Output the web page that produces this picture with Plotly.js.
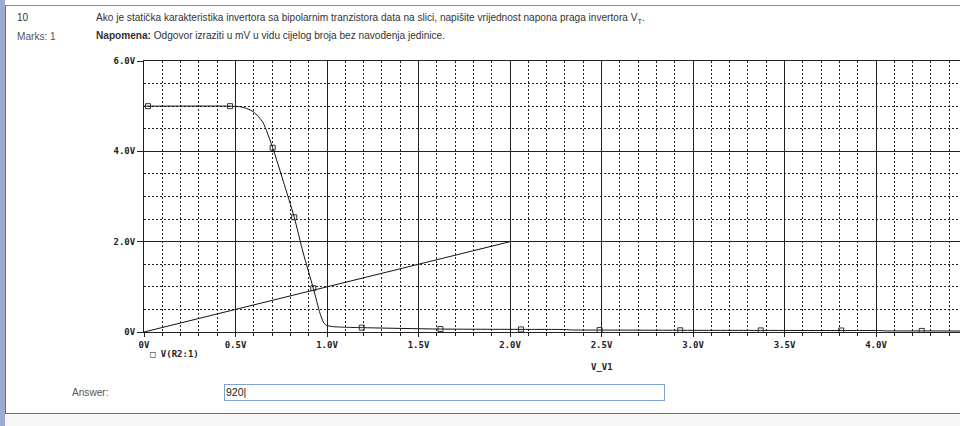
<!DOCTYPE html>
<html>
<head>
<meta charset="utf-8">
<script src="https://cdn.plot.ly/plotly-3.0.1.min.js"></script>
<style>
  html, body { margin:0; padding:0; width:960px; height:426px; overflow:hidden; background:#fff; }
  #page { position:relative; width:960px; height:426px; }
  #chart { position:absolute; left:0; top:0; width:960px; height:426px; }
  .txt { position:absolute; font-family:"Liberation Sans", Arial, sans-serif; font-size:10.1px; color:#333; white-space:nowrap; }
  #leftbar { position:absolute; left:0; top:0; width:5px; height:426px; background:#9dabd3; }
  #frame { position:absolute; left:5px; top:5px; width:960px; height:407px; border-left:1px solid #6f6f6f; border-top:1px solid #8a8a8a; border-bottom:1px solid #6f6f6f; }
  #below { position:absolute; left:5px; top:414px; width:955px; height:12px; background:#f6f6f6; }
  #answer { position:absolute; left:224px; top:384px; width:441px; height:17px; border:1px solid #7f9fd6; font-family:"Liberation Sans", Arial, sans-serif; font-size:10.5px; color:#222; line-height:15px; padding-left:1px; box-sizing:border-box; }
</style>
</head>
<body>
<div id="page">
  <div id="leftbar"></div>
  <div id="below"></div>
  <div id="frame"></div>
  <div id="chart"></div>
  <div class="txt" style="left:17px; top:12px;">10</div>
  <div class="txt" style="left:17px; top:31px; color:#555;">Marks: 1</div>
  <div class="txt" id="q1" style="left:96px; top:12px;">Ako je statička karakteristika invertora sa bipolarnim tranzistora data na slici, napišite vrijednost napona praga invertora V<sub style="font-size:7.5px;">T</sub>.</div>
  <div class="txt" id="q2" style="left:96px; top:30px;"><b>Napomena:</b> Odgovor izraziti u mV u vidu cijelog broja bez navođenja jedinice.</div>
  <div class="txt" style="left:72px; top:387px; color:#555;">Answer:</div>
  <div id="answer">920|</div>
</div>
<script>
// ---- data ----
const curveX = [0, 0.47, 0.52, 0.56, 0.60, 0.65, 0.703, 0.761, 0.821, 0.87, 0.925, 0.962, 0.98, 0.995, 1.03, 1.10, 1.19, 1.62, 2.06, 2.30, 2.34, 2.49, 2.93, 3.37, 3.81, 4.02, 4.05, 4.25, 4.46];
const curveY = [5.0, 5.0, 4.99, 4.95, 4.87, 4.64, 4.08, 3.34, 2.54, 1.75, 0.97, 0.41, 0.22, 0.15, 0.12, 0.105, 0.096, 0.065, 0.058, 0.055, 0.045, 0.043, 0.038, 0.035, 0.033, 0.032, 0.025, 0.024, 0.022];
const markerX = [0.022, 0.47, 0.703, 0.821, 0.925, 1.19, 1.62, 2.06, 2.49, 2.93, 3.37, 3.81, 4.25];
const markerY = [5.0, 5.0, 4.08, 2.54, 0.97, 0.096, 0.065, 0.058, 0.043, 0.038, 0.035, 0.033, 0.024];
const refX = [0, 2.0];
const refY = [0, 2.0];
const xTickVals = [0, 0.5, 1.0, 1.5, 2.0, 2.5, 3.0, 3.5, 4.0, 4.5];
const xTickText = ["0V", "0.5V", "1.0V", "1.5V", "2.0V", "2.5V", "3.0V", "3.5V", "4.0V", "4.5V"];
const yTickVals = [0, 2, 4, 6];
const yTickText = ["0V", "2.0V", "4.0V", "6.0V"];
const legendLabel = "\u25A1 V(R2:1)";
const xTitle = "V_V1";

const tickFont = { family: "DejaVu Sans Mono, monospace", size: 9, color: "#222", weight: "bold" };

const traces = [
  { x: refX, y: refY, mode: "lines", line: { color: "#111", width: 1 }, hoverinfo: "skip", showlegend: false },
  { x: curveX, y: curveY, mode: "lines", line: { color: "#111", width: 1, shape: "spline", smoothing: 0.6 }, showlegend: false },
  { x: markerX, y: markerY, mode: "markers", marker: { symbol: "square-open", size: 5, color: "#333", line: { width: 1 } }, showlegend: false }
];

const layout = {
  width: 960, height: 426,
  margin: { l: 144, r: 0, t: 61, b: 94 },
  paper_bgcolor: "rgba(0,0,0,0)",
  plot_bgcolor: "#fff",
  showlegend: false,
  xaxis: {
    range: [0, 816 / 183],
    tickvals: xTickVals, ticktext: xTickText,
    tickfont: tickFont,
    showgrid: true, gridcolor: "#222", gridwidth: 1,
    zeroline: false,
    showline: true, linecolor: "#222", linewidth: 1, mirror: true,
    ticks: "outside", ticklen: 4, tickcolor: "#222",
    minor: { dtick: 0.1, tick0: 0, showgrid: true, gridcolor: "#222", griddash: "2px,2px", gridwidth: 1, ticks: "outside", ticklen: 3, tickcolor: "#222" }
  },
  yaxis: {
    range: [0, 6],
    tickvals: yTickVals, ticktext: yTickText,
    tickfont: tickFont,
    showgrid: true, gridcolor: "#222", gridwidth: 1,
    zeroline: false,
    showline: true, linecolor: "#222", linewidth: 1,
    ticks: "outside", ticklen: 6, tickcolor: "#222",
    minor: { dtick: 0.5, tick0: 0, showgrid: true, gridcolor: "#222", griddash: "2px,2px", gridwidth: 1 }
  },
  annotations: [
    { text: legendLabel, xref: "paper", yref: "paper", x: (148 - 144) / 816, y: (332 - 354) / 271, xanchor: "left", yanchor: "middle", showarrow: false, font: tickFont },
    { text: xTitle, xref: "x", yref: "paper", x: 2.5, y: (332 - 367) / 271, xanchor: "center", yanchor: "middle", showarrow: false, font: tickFont }
  ]
};

Plotly.newPlot("chart", traces, layout, { staticPlot: true, displayModeBar: false });
</script>
</body>
</html>
